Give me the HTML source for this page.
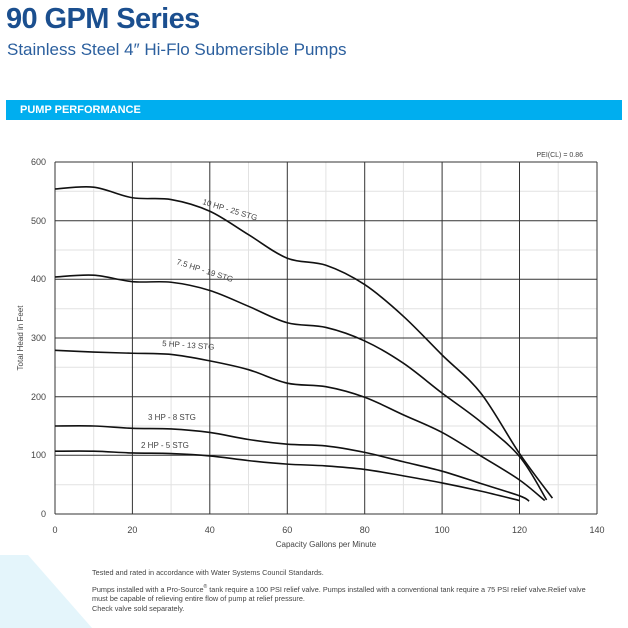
<!DOCTYPE html>
<html><head><meta charset="utf-8"><style>
body{margin:0;width:628px;height:628px;overflow:hidden;background:#fff;font-family:"Liberation Sans",sans-serif;position:relative}
.t{position:absolute;white-space:nowrap}
</style></head><body>
<div class="t" style="left:6px;top:3px;font-size:29px;font-weight:bold;color:#1b4f8f;letter-spacing:-0.6px">90 GPM Series</div>
<div class="t" style="left:7px;top:40px;font-size:17px;color:#2b5f9e">Stainless Steel 4″ Hi-Flo Submersible Pumps</div>
<div style="position:absolute;left:6px;top:100px;width:616px;height:20px;background:#00aeef"></div>
<div class="t" style="left:20px;top:104px;font-size:11px;font-weight:bold;color:#fff">PUMP PERFORMANCE</div>
<svg width="628" height="628" style="position:absolute;left:0;top:0" font-family="Liberation Sans, sans-serif">
<polygon points="0,555 28,555 92,628 0,628" fill="#e4f5fb"/>
<g stroke="#e2e2e2" stroke-width="1">
<line x1="93.7" y1="162" x2="93.7" y2="514"/><line x1="171.1" y1="162" x2="171.1" y2="514"/><line x1="248.5" y1="162" x2="248.5" y2="514"/><line x1="325.9" y1="162" x2="325.9" y2="514"/><line x1="403.4" y1="162" x2="403.4" y2="514"/><line x1="480.8" y1="162" x2="480.8" y2="514"/><line x1="558.2" y1="162" x2="558.2" y2="514"/>
<line x1="55" y1="191.3" x2="597" y2="191.3"/><line x1="55" y1="250" x2="597" y2="250"/><line x1="55" y1="308.7" x2="597" y2="308.7"/><line x1="55" y1="367.3" x2="597" y2="367.3"/><line x1="55" y1="426" x2="597" y2="426"/><line x1="55" y1="484.7" x2="597" y2="484.7"/>
</g>
<g stroke="#333" stroke-width="1">
<line x1="132.4" y1="162" x2="132.4" y2="514"/><line x1="209.8" y1="162" x2="209.8" y2="514"/><line x1="287.3" y1="162" x2="287.3" y2="514"/><line x1="364.7" y1="162" x2="364.7" y2="514"/><line x1="442.1" y1="162" x2="442.1" y2="514"/><line x1="519.5" y1="162" x2="519.5" y2="514"/><line x1="597" y1="162" x2="597" y2="514"/><line x1="55" y1="162" x2="55" y2="514"/>
<line x1="55" y1="162" x2="597" y2="162"/><line x1="55" y1="220.7" x2="597" y2="220.7"/><line x1="55" y1="279.3" x2="597" y2="279.3"/><line x1="55" y1="338" x2="597" y2="338"/><line x1="55" y1="396.7" x2="597" y2="396.7"/><line x1="55" y1="455.3" x2="597" y2="455.3"/><line x1="55" y1="514" x2="597" y2="514"/>
</g>
<g id="curves" fill="none" stroke="#111" stroke-width="1.6" stroke-linejoin="round"></g>
<g font-size="8" fill="#444">
<text transform="translate(202,204) rotate(17)">10 HP - 25 STG</text>
<text transform="translate(176,264) rotate(18)">7.5 HP - 19 STG</text>
<text transform="translate(162,346) rotate(4)">5 HP - 13 STG</text>
<text x="148" y="420">3 HP - 8 STG</text>
<text x="141" y="448">2 HP - 5 STG</text>
</g>
<text x="583" y="157" font-size="7" fill="#444" text-anchor="end">PEI(CL) = 0.86</text>
<g font-size="9" fill="#444" text-anchor="end">
<text x="46" y="165">600</text><text x="46" y="224">500</text><text x="46" y="282">400</text><text x="46" y="341">300</text><text x="46" y="400">200</text><text x="46" y="458">100</text><text x="46" y="517">0</text>
</g>
<g font-size="9" fill="#444" text-anchor="middle">
<text x="55" y="533">0</text><text x="132.4" y="533">20</text><text x="209.8" y="533">40</text><text x="287.3" y="533">60</text><text x="364.7" y="533">80</text><text x="442.1" y="533">100</text><text x="519.5" y="533">120</text><text x="597" y="533">140</text>
<text x="326" y="547" font-size="8">Capacity Gallons per Minute</text>
<text transform="translate(23,338) rotate(-90)" font-size="8">Total Head in Feet</text>
</g>
<g font-size="7.3" fill="#444">
<text x="92" y="575">Tested and rated in accordance with Water Systems Council Standards.</text>
<text x="92" y="592">Pumps installed with a Pro-Source<tspan dy="-4" font-size="5">®</tspan><tspan dy="4"> tank require a 100 PSI relief valve. Pumps installed with a conventional tank require a 75 PSI relief valve.Relief valve</tspan></text>
<text x="92" y="601">must be capable of relieving entire flow of pump at relief pressure.</text>
<text x="92" y="611">Check valve sold separately.</text>
</g>
</svg>
<script>
var D=[
[[0,554],[10,557],[20,539],[30,536],[40,516],[50,476],[60,436],[70,424],[80,391],[90,337],[100,271],[110,206],[120,103],[128.5,27]],
[[0,404],[10,407],[20,396],[30,395],[40,381],[50,354],[60,326],[70,318],[80,295],[90,257],[100,206],[110,157],[120,98],[127,24]],
[[0,279],[10,276],[20,274],[30,272],[40,261],[50,246],[60,223],[70,217],[80,199],[90,169],[100,139],[110,99],[120,58],[126.5,23]],
[[0,150],[10,150],[20,146],[30,145],[40,139],[50,127],[60,119],[70,116],[80,105],[90,89],[100,73],[110,52],[120,31],[122.5,22]],
[[0,107],[10,107],[20,104],[30,103],[40,99],[50,91],[60,85],[70,82],[80,76],[90,65],[100,53],[110,39],[120,23]]];
var g=document.getElementById('curves');
D.forEach(function(s){
 var p=s.map(function(a){return [55+a[0]*3.871,514-a[1]*0.5867]});
 var d='M'+p[0][0]+','+p[0][1];
 for(var i=0;i<p.length-1;i++){
  var p0=p[i-1]||p[i],p1=p[i],p2=p[i+1],p3=p[i+2]||p2;
  var c1=[p1[0]+(p2[0]-p0[0])/6,p1[1]+(p2[1]-p0[1])/6],c2=[p2[0]-(p3[0]-p1[0])/6,p2[1]-(p3[1]-p1[1])/6];
  d+=' C'+c1+' '+c2+' '+p2;
 }
 var e=document.createElementNS('http://www.w3.org/2000/svg','path');e.setAttribute('d',d);g.appendChild(e);
});
</script>
</body></html>
